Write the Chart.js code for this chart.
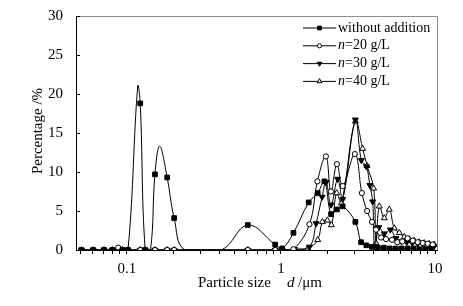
<!DOCTYPE html>
<html>
<head>
<meta charset="utf-8">
<script src="https://cdn.jsdelivr.net/npm/chart.js@4.4.0/dist/chart.umd.min.js"></script>
<style>
  html, body { margin: 0; padding: 0; background: #fff; }
</style>
</head>
<body>
<canvas id="psd" width="463" height="306"></canvas>
<script>
// Particle size distribution (size in um, percentage in %)

const sizesWithout = [0.0507, 0.0603, 0.0710, 0.0805, 0.0935, 0.1016, 0.122, 0.1314, 0.152, 0.1824, 0.2025,
    0.609, 0.917, 1.018, 1.205, 1.514, 1.732, 1.914, 2.115, 2.307, 2.515, 3.04, 3.31, 3.58, 3.89,
    4.253, 4.651, 5.088, 5.565, 6.084, 6.656, 7.278, 7.96, 8.706, 9.519];
const pctWithout = [0, 0, 0, 0, 0, 0, 18.8, 0, 9.7, 9.3, 4.1,
    3.2, 0.7, 0.2, 2.2, 6.1, 7.3, 8.8, 4.6, 5.2, 5.6, 3.6, 1.0, 0.6, 0.4,
    0.3, 0.3, 0.2, 0.2, 0.2, 0.2, 0.2, 0.1, 0.1, 0.1];
// where the smoothed curve runs with no symbol on it
const sizesWithoutCurve = [0.1175, 0.1422, 0.1632, 0.237, 0.41];
const pctWithoutCurve = [21.0, 0, 13.3, 0, 0];

const sizesN20 = [0.0507, 0.0603, 0.0710, 0.0805, 0.0878, 0.0935, 0.1016, 0.122, 0.1314, 0.152, 0.1824, 0.2025,
    0.609, 0.917, 1.018, 1.205, 1.530, 1.724, 1.957, 2.109, 2.307, 2.515, 3.017, 3.350, 3.621, 3.900,
    4.140, 4.461, 4.806, 5.256, 5.689, 6.13, 6.636, 7.170, 7.725, 8.324, 8.97, 9.663];
const pctN20 = [0, 0, 0, 0, 0.3, 0, 0, 0, 0, 0, 0, 0,
    0, 0, 0, 0.1, 3.3, 8.8, 12.0, 7.5, 11.0, 8.2, 12.3, 7.3, 5.0, 3.6,
    2.6, 1.6, 1.4, 1.3, 1.0, 1.1, 1.5, 1.2, 1.0, 0.9, 0.8, 0.7];

const sizesN30 = [0.0507, 0.0603, 0.0710, 0.0805, 0.0935, 0.1016, 0.122, 0.1314, 0.152, 0.1824, 0.2025,
    0.609, 0.917, 1.018, 1.223, 1.530, 1.691, 1.849, 1.963, 2.115, 2.334, 2.515, 3.04, 3.325, 3.583, 3.774,
    3.936, 4.066, 4.317, 4.687, 5.126, 5.580, 6.039, 6.556, 7.116, 7.725, 8.386, 9.104, 9.881];
const pctN30 = [0, 0, 0, 0, 0, 0, 0, 0, 0, 0, 0,
    0, 0, 0, 0.1, 0.4, 3.4, 6.8, 8.7, 5.8, 9.1, 6.5, 16.7, 11.5, 10.7, 8.3,
    6.2, 0.2, 2.9, 2.1, 2.6, 1.5, 1.1, 1.0, 0.9, 0.8, 0.7, 0.6, 0.5];

const sizesN40 = [0.0507, 0.0603, 0.0710, 0.0805, 0.0935, 0.1016, 0.122, 0.1314, 0.152, 0.1824, 0.2025,
    0.609, 0.917, 1.018, 1.223, 1.492, 1.732, 1.858, 2.002, 2.125, 2.300, 2.466, 3.04, 3.390, 3.621, 3.995,
    4.140, 4.349, 4.687, 5.049, 5.440, 5.861, 6.316, 6.805, 7.333, 7.901, 8.511, 9.171, 9.881];
const pctN40 = [0, 0, 0, 0, 0, 0, 0, 0, 0, 0, 0,
    0, 0, 0, 0, 0.2, 1.3, 3.6, 3.8, 3.2, 7.3, 6.0, 16.5, 13.0, 10.8, 7.9,
    0.9, 5.6, 4.1, 5.2, 2.8, 2.2, 1.7, 1.4, 1.2, 1.0, 0.9, 0.8, 0.7];

const seriesLabels = ['without addition', 'n=20 g/L', 'n=30 g/L', 'n=40 g/L'];
const xLabelValues = [0.1, 1, 10];
const yTickValues = [0, 5, 10, 15, 20, 25, 30];

const SERIF = '"Liberation Serif", "Times New Roman", serif';

function buildPoints(xs, ys, curveXs, curveYs) {
    const pts = xs.map((x, i) => ({ x: x, y: ys[i], mark: true }));
    (curveXs || []).forEach((x, i) => pts.push({ x: x, y: curveYs[i], mark: false }));
    return pts.sort((a, b) => a.x - b.x);
}

function markerRadius(r) {
    return (ctx) => (ctx.raw && ctx.raw.mark === false) ? 0 : r;
}

function series(label, pts, style, fill, r, rotation) {
    return {
        label: label,
        data: pts,
        borderColor: '#000',
        borderWidth: 1,
        tension: 0.4,
        fill: false,
        pointStyle: style,
        pointRotation: rotation || 0,
        pointRadius: markerRadius(r),
        pointBackgroundColor: fill,
        pointBorderColor: '#000',
        pointBorderWidth: 1,
        legendRadius: r * 0.8
    };
}

// log ticks 0.05 .. 10 (marks only, labels at decades)
const xTickMarks = [];
[0.01, 0.1, 1].forEach(dec => {
    for (let m = 1; m <= 9; m++) {
        const v = +(m * dec).toPrecision(3);
        if (v >= 0.05) xTickMarks.push(v);
    }
});
xTickMarks.push(10);

const framePlugin = {
    id: 'frame',
    afterDraw(chart) {
        const { ctx, chartArea: a } = chart;
        ctx.save();
        ctx.strokeStyle = '#8c8c8c';
        ctx.lineWidth = 1;
        ctx.beginPath();
        ctx.moveTo(a.left, a.top + 0.5);
        ctx.lineTo(a.right + 0.5, a.top + 0.5);
        ctx.lineTo(a.right + 0.5, a.bottom);
        ctx.stroke();
        // inward y ticks
        const ys = chart.scales.y;
        ctx.strokeStyle = '#000';
        ctx.beginPath();
        yTickValues.forEach(v => {
            const y = Math.round(ys.getPixelForValue(v)) + 0.5;
            ctx.moveTo(a.left, y);
            ctx.lineTo(a.left + 4, y);
        });
        ctx.stroke();
        ctx.restore();
    }
};

const titlePlugin = {
    id: 'titles',
    afterDraw(chart) {
        const ctx = chart.ctx;
        ctx.save();
        ctx.fillStyle = '#000';
        ctx.textBaseline = 'alphabetic';
        ctx.font = '15px ' + SERIF;
        ctx.textAlign = 'left';
        ctx.fillText('Particle size', 198, 287);
        ctx.font = 'italic 15px ' + SERIF;
        ctx.fillText('d', 287, 287);
        ctx.font = '15px ' + SERIF;
        ctx.fillText('/\u03bcm', 298, 287);

        ctx.translate(42, 131);
        ctx.rotate(-Math.PI / 2);
        ctx.textAlign = 'center';
        ctx.fillText('Percentage /%', 0, 0);
        ctx.restore();
    }
};

const legendPlugin = {
    id: 'psdLegend',
    afterDraw(chart) {
        const ctx = chart.ctx;
        chart.data.datasets.forEach((ds, i) => {
            const y = 28 + i * 17.8;
            ctx.save();
            ctx.strokeStyle = '#000';
            ctx.lineWidth = 1;
            ctx.beginPath();
            ctx.moveTo(303, y);
            ctx.lineTo(336, y);
            ctx.stroke();
            ctx.fillStyle = ds.pointBackgroundColor;
            Chart.helpers.drawPoint(ctx, {
                pointStyle: ds.pointStyle,
                rotation: ds.pointRotation,
                radius: ds.legendRadius,
                borderWidth: 1
            }, 319.5, y);

            ctx.fillStyle = '#000';
            ctx.textBaseline = 'middle';
            ctx.textAlign = 'left';
            const label = seriesLabels[i];
            let x = 338;
            if (label.startsWith('n=')) {
                ctx.font = 'italic 14px ' + SERIF;
                ctx.fillText('n', x, y);
                x += ctx.measureText('n').width;
                ctx.font = '14px ' + SERIF;
                ctx.fillText(label.slice(1), x, y);
            } else {
                ctx.font = '14px ' + SERIF;
                ctx.fillText(label, x, y);
            }
            ctx.restore();
        });
    }
};

new Chart(document.getElementById('psd'), {
    type: 'line',
    data: {
        datasets: [
            series(seriesLabels[0], buildPoints(sizesWithout, pctWithout, sizesWithoutCurve, pctWithoutCurve), 'rect', '#000', 3.3),
            series(seriesLabels[1], buildPoints(sizesN20, pctN20), 'circle', '#fff', 2.6),
            series(seriesLabels[2], buildPoints(sizesN30, pctN30), 'triangle', '#000', 3.4, 180),
            series(seriesLabels[3], buildPoints(sizesN40, pctN40), 'triangle', '#fff', 3.4)
        ]
    },
    options: {
        responsive: false,
        animation: false,
        devicePixelRatio: 1,
        layout: { padding: { left: 0, right: 26, top: 16, bottom: 0 } },
        plugins: {
            legend: { display: false },
            tooltip: { enabled: false }
        },
        scales: {
            x: {
                type: 'logarithmic',
                position: 'bottom',
                min: 0.0467,
                max: 10.3,
                afterFit: (s) => { s.height = 56; },
                afterBuildTicks: (s) => { s.ticks = xTickMarks.map(v => ({ value: v })); },
                grid: { drawOnChartArea: false, drawTicks: true, tickLength: 4, color: '#000', lineWidth: 1 },
                border: { display: true, color: '#000', width: 1 },
                ticks: {
                    autoSkip: false,
                    maxRotation: 0,
                    padding: 6,
                    color: '#000',
                    font: { family: SERIF, size: 15 },
                    callback: (v) => {
                        const hit = xLabelValues.find(t => Math.abs(v - t) < t * 1e-6);
                        return hit === undefined ? '' : String(hit);
                    }
                }
            },
            y: {
                min: 0,
                max: 30,
                afterFit: (s) => { s.width = 76; },
                afterBuildTicks: (s) => { s.ticks = yTickValues.map(v => ({ value: v })); },
                grid: { display: false },
                border: { display: true, color: '#000', width: 1 },
                ticks: {
                    padding: 5,
                    color: '#000',
                    font: { family: SERIF, size: 15 }
                }
            }
        }
    },
    plugins: [framePlugin, titlePlugin, legendPlugin]
});
</script>
</body>
</html>
